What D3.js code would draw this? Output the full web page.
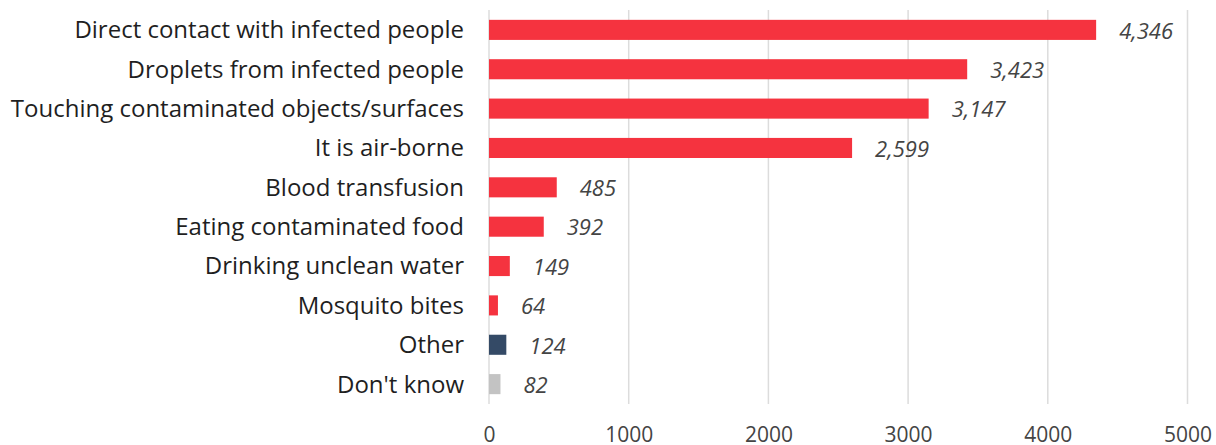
<!DOCTYPE html>
<html><head><meta charset="utf-8">
<script src="https://cdn.jsdelivr.net/npm/d3@7"></script>
<style>body{margin:0;background:#fff;}svg{display:block;font-family:"Open Sans",sans-serif;}</style>
</head><body><svg id="c" width="1216" height="445"></svg>
<script>
const categories = ["Direct contact with infected people","Droplets from infected people","Touching contaminated objects/surfaces","It is air-borne","Blood transfusion","Eating contaminated food","Drinking unclean water","Mosquito bites","Other","Don't know"];
const values = [4346,3423,3147,2599,485,392,149,64,124,82];
const barColors = ["#f5333f","#f5333f","#f5333f","#f5333f","#f5333f","#f5333f","#f5333f","#f5333f","#344a66","#c3c3c3"];
const tickValues = [0,1000,2000,3000,4000,5000];

const svg = d3.select("#c");
const x = d3.scaleLinear().domain([0,5000]).range([489,1187.5]);
const y = d3.scaleBand().domain(categories).range([10,404]).paddingInner(0.49).paddingOuter(0.25);

svg.append("g").selectAll("line").data(tickValues).join("line")
  .attr("x1",d=>x(d)).attr("x2",d=>x(d)).attr("y1",10).attr("y2",404)
  .attr("stroke","#dcdcdc").attr("stroke-width",1.5);

const xAxis = d3.axisBottom(x).tickValues(tickValues).tickSize(0).tickPadding(0).tickFormat(d3.format("d"));
const gx = svg.append("g").attr("transform","translate(0,427)").call(xAxis);
gx.select(".domain").remove();
gx.selectAll("text").attr("font-size",21).attr("fill","#444").attr("font-family","Open Sans, sans-serif");

const yAxis = d3.axisLeft(y).tickSize(0).tickPadding(0);
const gy = svg.append("g").attr("transform","translate(464,0)").call(yAxis);
gy.select(".domain").remove();
gy.selectAll("text").attr("font-size",24).attr("font-weight",500).attr("fill","#1f1f1f").attr("font-family","Open Sans, sans-serif").attr("dy","0.35em");

svg.append("g").selectAll("rect").data(values).join("rect")
  .attr("x",x(0)).attr("y",(d,i)=>y(categories[i])).attr("height",y.bandwidth())
  .attr("width",d=>x(d)-x(0)).attr("fill",(d,i)=>barColors[i]);

const fmt = d3.format(",");
svg.append("g").selectAll("text").data(values).join("text")
  .attr("x",d=>x(d)+23).attr("y",(d,i)=>y(categories[i])+y.bandwidth()/2)
  .attr("dy","0.4em").attr("font-style","italic").attr("font-size",22).attr("fill","#444")
  .text(d=>fmt(d));
</script></body></html>
